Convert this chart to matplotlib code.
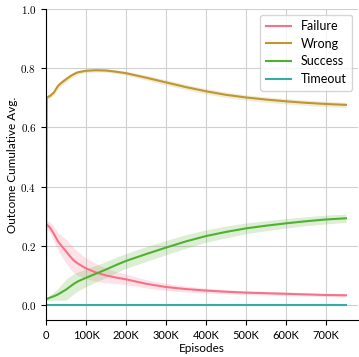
import matplotlib
matplotlib.use("Agg")
import matplotlib.pyplot as plt
import numpy as np
from matplotlib.ticker import FuncFormatter, MultipleLocator

plt.rcParams["font.family"] = ["Lato", "DejaVu Sans"]
plt.rcParams["mathtext.fontset"] = "cm"

# episodes (thousands)
episodes_k = [0, 2, 5, 10, 20, 30, 40, 50, 60, 70, 80, 100, 125, 150, 175, 200, 250,
              300, 350, 400, 450, 500, 550, 600, 650, 700, 750]

failure = [0.275, 0.272, 0.268, 0.262, 0.240, 0.215, 0.198, 0.182, 0.165, 0.150, 0.140,
           0.124, 0.110, 0.100, 0.093, 0.087, 0.072, 0.061, 0.054, 0.049, 0.045, 0.042,
           0.040, 0.038, 0.036, 0.034, 0.033]
failure_hw = [0.010, 0.012, 0.015, 0.018, 0.025, 0.030, 0.035, 0.040, 0.042, 0.042, 0.040,
              0.035, 0.030, 0.025, 0.020, 0.018, 0.014, 0.012, 0.010, 0.008, 0.007, 0.006,
              0.006, 0.006, 0.005, 0.005, 0.005]

wrong = [0.0, 0.700, 0.703, 0.706, 0.718, 0.740, 0.752, 0.762, 0.772, 0.780, 0.786,
         0.791, 0.793, 0.792, 0.788, 0.783, 0.768, 0.752, 0.736, 0.722, 0.710, 0.701,
         0.694, 0.688, 0.683, 0.679, 0.676]
wrong_hw = [0.005, 0.006, 0.006, 0.007, 0.008, 0.010, 0.010, 0.010, 0.009, 0.008, 0.007,
            0.006, 0.006, 0.006, 0.006, 0.007, 0.008, 0.009, 0.009, 0.009, 0.009, 0.009,
            0.009, 0.009, 0.009, 0.009, 0.009]

success = [0.020, 0.021, 0.022, 0.025, 0.030, 0.036, 0.044, 0.052, 0.062, 0.072, 0.080,
           0.092, 0.106, 0.120, 0.135, 0.149, 0.172, 0.194, 0.215, 0.233, 0.247, 0.259,
           0.268, 0.276, 0.283, 0.289, 0.293]
success_hw = [0.003, 0.005, 0.007, 0.010, 0.014, 0.020, 0.028, 0.035, 0.035, 0.034, 0.032,
              0.030, 0.028, 0.027, 0.026, 0.025, 0.025, 0.024, 0.023, 0.021, 0.020, 0.018,
              0.017, 0.016, 0.015, 0.015, 0.014]

timeout = [0.0] * len(episodes_k)
timeout_hw = [0.0] * len(episodes_k)

series = [
    ("Failure", failure, failure_hw, "#f77189"),
    ("Wrong", wrong, wrong_hw, "#bb9832"),
    ("Success", success, success_hw, "#50b131"),
    ("Timeout", timeout, timeout_hw, "#36ada4"),
]

fig = plt.figure(figsize=(3.59, 3.57), dpi=100)
ax = fig.add_axes([0.128, 0.104, 0.869, 0.871])

x = np.array(episodes_k) * 1000
for name, mean, hw, color in series:
    mean = np.array(mean)
    hw = np.array(hw)
    ax.fill_between(x, mean - hw, mean + hw, color=color, alpha=0.2, lw=0)
    ax.plot(x, mean, color=color, lw=1.5, label=name)

ax.set_xlim(0, 780000)
ax.set_ylim(-0.05, 1.0)
ax.xaxis.set_major_locator(MultipleLocator(100000))
ax.yaxis.set_major_locator(MultipleLocator(0.2))
ax.xaxis.set_major_formatter(FuncFormatter(lambda v, p: "0" if v == 0 else f"{int(v / 1000)}K"))
ax.yaxis.set_major_formatter(FuncFormatter(lambda v, p: f"${v:.1f}$"))

ax.grid(True, color="#d0d0d0", lw=0.8)
ax.set_axisbelow(True)
for s in ["top", "right"]:
    ax.spines[s].set_visible(False)
ax.tick_params(labelsize=8, length=3.5, width=0.8)

ax.set_xlabel("Episodes", fontsize=8.5, labelpad=2)
ax.set_ylabel("Outcome Cumulative Avg.", fontsize=8.5, labelpad=2)

leg = ax.legend(loc="upper right", fontsize=9, frameon=True, handlelength=2.0,
                borderpad=0.45, labelspacing=0.45, borderaxespad=0.45)
leg.get_frame().set_edgecolor("#cccccc")

fig.savefig("out.png", dpi=100)
